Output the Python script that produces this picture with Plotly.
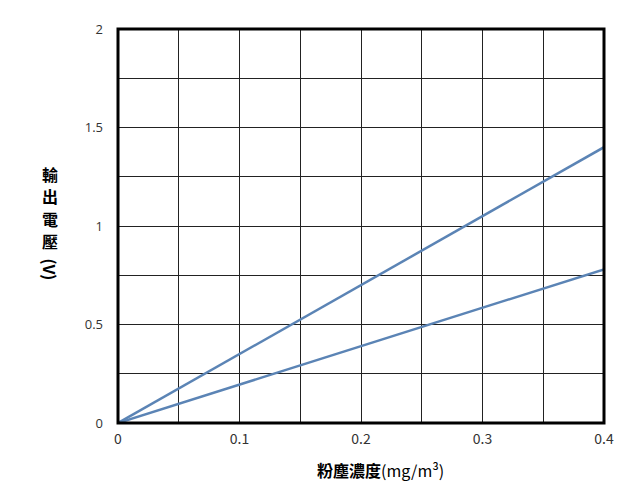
import plotly.graph_objects as go

# dust concentration (mg/m3) vs output voltage (V)
conc = [0, 0.4]
volt_high = [0, 1.40]
volt_low = [0, 0.78]

x_tickvals = [0, 0.05, 0.1, 0.15, 0.2, 0.25, 0.3, 0.35, 0.4]
x_ticktext = ["0", "", "0.1", "", "0.2", "", "0.3", "", "0.4"]
y_tickvals = [0, 0.25, 0.5, 0.75, 1, 1.25, 1.5, 1.75, 2]
y_ticktext = ["0", "", "0.5", "", "1", "", "1.5", "", "2"]

# y title, written vertically one character at a time
y_title_chars = ["輸", "出", "電", "壓"]
y_title_pos = [0.633, 0.576, 0.519, 0.462]

line_color = "#5b84b5"

fig = go.Figure()
fig.add_trace(go.Scatter(x=conc, y=volt_high, mode="lines",
                         line=dict(color=line_color, width=2.5)))
fig.add_trace(go.Scatter(x=conc, y=volt_low, mode="lines",
                         line=dict(color=line_color, width=2.5)))

fig.update_layout(
    width=641, height=491,
    margin=dict(l=110, r=45, t=14, b=76),
    paper_bgcolor="white", plot_bgcolor="white",
    showlegend=False,
    xaxis=dict(
        range=[0, 0.4], tickvals=x_tickvals, ticktext=x_ticktext,
        showgrid=True, gridcolor="#222222", gridwidth=1,
        zeroline=False, showline=False, ticks="",
        ticklabelstandoff=6,
        tickfont=dict(family="Noto Sans CJK JP", size=14, color="#333333"),
    ),
    yaxis=dict(
        range=[0, 2], tickvals=y_tickvals, ticktext=y_ticktext,
        showgrid=True, gridcolor="#222222", gridwidth=1,
        zeroline=False, showline=False, ticks="",
        ticklabelstandoff=14,
        tickfont=dict(family="Open Sans", size=13, color="#333333"),
    ),
)

# thick frame around the plot area
fig.add_shape(type="rect", xref="paper", yref="paper", x0=0, y0=0, x1=1, y1=1,
              line=dict(color="black", width=3))

# x axis title
fig.add_annotation(text="<b>粉塵濃度</b>(mg/m³)", xref="paper", yref="paper",
                   x=0.54, y=-0.12, yanchor="middle", showarrow=False,
                   font=dict(family="Noto Sans CJK TC", size=16, color="black"))

for ch, yp in zip(y_title_chars, y_title_pos):
    fig.add_annotation(text="<b>" + ch + "</b>", xref="paper", yref="paper",
                       x=-0.140, y=yp, xanchor="center", yanchor="middle",
                       showarrow=False, borderpad=0,
                       font=dict(family="Noto Sans CJK TC", size=16, color="black"))
fig.add_annotation(text="<b>(V)</b>", xref="paper", yref="paper",
                   x=-0.140, y=0.390, xanchor="center", yanchor="middle",
                   textangle=90, showarrow=False, borderpad=0,
                   font=dict(family="Noto Sans CJK TC", size=16, color="black"))

fig.write_html("out.html")
